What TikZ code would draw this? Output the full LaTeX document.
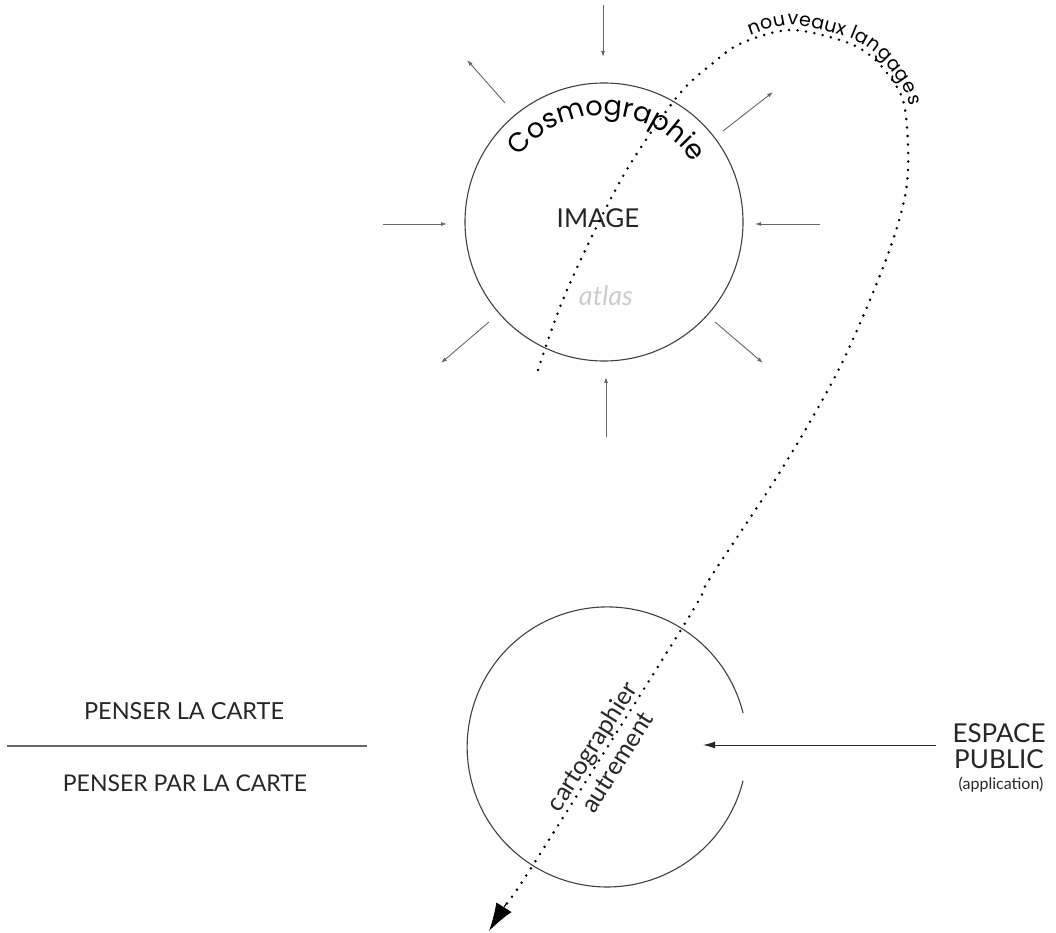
\documentclass[tikz,border=0pt]{standalone}
\usepackage{fontspec}
\setmainfont{Lato}
\newfontfamily\geofont{Poppins}
\usetikzlibrary{arrows.meta,decorations.text}
\begin{document}
\begin{tikzpicture}[x=1pt,y=1pt,
  ring/.style={draw=black!75, line width=1.1pt},
  ray/.style={draw=black!60, line width=0.9pt, -{Latex[length=6pt,width=4pt]}},
  dots/.style={line width=2.8pt, line cap=round, dash pattern=on 0pt off 8.5pt},
  txt/.style={inner sep=0pt, text=black!85},
]
\useasboundingbox (0,0) rectangle (1056,932);

% upper circle: IMAGE
\node[circle, ring, minimum size=278pt, inner sep=0pt] (image) at (604,710) {};
\node[txt, font=\fontsize{26}{26}\selectfont] (imagelabel) at (598,714) {IMAGE};
\node[txt, text=black!20, font=\itshape\fontsize{27}{27}\selectfont] (atlas) at (606,636) {atlas};
\path[decorate, decoration={text along path, text align=center,
    text={|\geofont\fontsize{27}{27}\selectfont|Cosmographie}}]
  (image.center) ++(155:107pt) arc[start angle=155, end angle=21, radius=107pt];

% rays around the circle: inward on the axes, outward on the diagonals
\coordinate (nS) at (603,927); \coordinate (nE) at (603,875);
\coordinate (wS) at (383,708); \coordinate (wE) at (447,708);
\coordinate (eS) at (820,708); \coordinate (eE) at (755,708);
\coordinate (sS) at (606,495); \coordinate (sE) at (606,555);
\coordinate (nwS) at (505,829); \coordinate (nwE) at (467,872);
\coordinate (neS) at (723,801); \coordinate (neE) at (773,840);
\coordinate (swS) at (489,610); \coordinate (swE) at (441,569);
\coordinate (seS) at (715,610); \coordinate (seE) at (763,569);
\foreach \r in {n,w,e,s,nw,ne,sw,se} \draw[ray] (\r S) -- (\r E);

% lower open circle
\node[circle, minimum size=280pt, inner sep=0pt] (carto) at (607,185) {};
\draw[ring] (carto.14) arc[start angle=14, end angle=346, radius=140pt];
\node[txt, rotate=57.8, align=center, font=\fontsize{25}{30}\selectfont] (autrement) at (604,178) {cartographier\\autrement};

% public space
\node[txt, font=\fontsize{26}{26}\selectfont] (espace) at (999,199) {ESPACE};
\node[txt, font=\fontsize{26}{26}\selectfont] (public) at (999,173) {PUBLIC};
\node[txt, font=\fontsize{16}{16}\selectfont] (application) at (1001,147) {(application)};
\coordinate (pubin) at (936,187);
\coordinate (pubtip) at (703,187);
\draw[black!85, line width=1pt, -{Latex[length=12pt,width=7pt]}] (pubin) -- (pubtip);

% left labels
\node[txt, font=\fontsize{23.5}{23.5}\selectfont] (penser) at (184,221) {PENSER LA CARTE};
\node[txt, font=\fontsize{23}{23}\selectfont] (penserpar) at (185,149) {PENSER PAR LA CARTE};
\coordinate (barL) at (7,186);
\coordinate (barR) at (367,186);
\draw[black!60, line width=1.2pt] (barL) -- (barR);

% dotted loop, ending in a solid arrowhead
\coordinate (tipbase) at (506,28);
\coordinate (tip) at (489,1);
\draw[dots] plot[smooth, tension=0.55] coordinates {
  (538,562) (567,642) (622,754) (677,835) (713,869) (742,889) (790,902)
  (840,892) (867,879) (887,859) (903,832) (908,789) (907,749) (900,715)
  (887,675) (867,625) (840,565) (807,505) (773,449) (740,399) (707,349)
  (687,312) (533,67) (tipbase)};
\draw[line width=1pt, -{Latex[length=28pt,width=18pt]}] (tipbase) -- (tip);
\path[decorate, decoration={text along path, raise=5pt,
    text={|\geofont\fontsize{19}{19}\selectfont|nouveaux langages}}]
  plot[smooth, tension=0.55] coordinates {(752,892) (790,902) (840,892) (867,879) (887,859) (903,832) (908,789) (907,749)};
\end{tikzpicture}
\end{document}
